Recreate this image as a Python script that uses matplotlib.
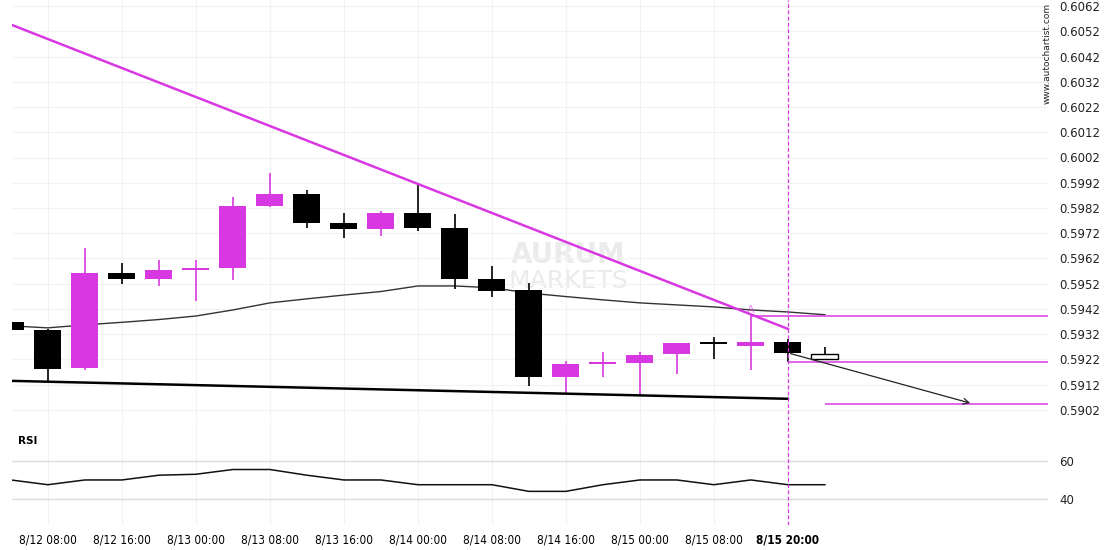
import matplotlib
matplotlib.use("Agg")
import matplotlib.pyplot as plt
import numpy as np

# 4h candles, first one is 8/12 04:00
opens  = [0.59369, 0.59337, 0.59187, 0.59563, 0.59539, 0.59575, 0.59583, 0.59828,
          0.59876, 0.59761, 0.59737, 0.59800, 0.59741, 0.59539, 0.59495, 0.59151,
          0.59202, 0.59206, 0.59242, 0.59284, 0.59274, 0.59290, 0.59242]
highs  = [0.59372, 0.59340, 0.59662, 0.59602, 0.59614, 0.59614, 0.59864, 0.59959,
          0.59891, 0.59800, 0.59808, 0.59911, 0.59796, 0.59590, 0.59523, 0.59214,
          0.59250, 0.59250, 0.59285, 0.59310, 0.59396, 0.59302, 0.59270]
lows   = [0.59335, 0.59131, 0.59180, 0.59519, 0.59511, 0.59452, 0.59535, 0.59824,
          0.59741, 0.59701, 0.59709, 0.59729, 0.59499, 0.59468, 0.59115, 0.59088,
          0.59151, 0.59080, 0.59163, 0.59220, 0.59179, 0.59211, 0.59222]
closes = [0.59337, 0.59183, 0.59563, 0.59539, 0.59575, 0.59583, 0.59828, 0.59876,
          0.59761, 0.59737, 0.59800, 0.59741, 0.59539, 0.59491, 0.59151, 0.59202,
          0.59206, 0.59238, 0.59285, 0.59282, 0.59290, 0.59246, 0.59222]

ma = [0.59353, 0.59345, 0.59357, 0.59367, 0.59378, 0.59392, 0.59416, 0.59444,
      0.59460, 0.59475, 0.59489, 0.59511, 0.59511, 0.59504, 0.59483, 0.59469,
      0.59456, 0.59444, 0.59436, 0.59428, 0.59416, 0.59408, 0.59397]

rsi = [50, 47.5, 50, 50, 52.5, 53, 55.5, 55.5, 52.5, 50, 50, 47.5, 47.5, 47.5,
       44, 44, 47.5, 50, 50, 47.5, 50, 47.5, 47.5]

tick_idx = [1, 3, 5, 7, 9, 11, 13, 15, 17, 19, 21]
tick_labels = ['8/12 08:00', '8/12 16:00', '8/13 00:00', '8/13 08:00', '8/13 16:00',
               '8/14 00:00', '8/14 08:00', '8/14 16:00', '8/15 00:00', '8/15 08:00',
               '8/15 20:00']

price_ticks = [0.5902, 0.5912, 0.5922, 0.5932, 0.5942, 0.5952, 0.5962, 0.5972,
               0.5982, 0.5992, 0.6002, 0.6012, 0.6022, 0.6032, 0.6042, 0.6052, 0.6062]

# pattern lines
res_x, res_y = [0.03, 21], [0.60545, 0.59341]
sup_x, sup_y = [0.03, 21], [0.59135, 0.59064]
level_hi, level_mid, level_lo = 0.59392, 0.59209, 0.59044
arrow_end = (26, 0.59044)

MAG = '#d838e2'
W, H = 1110, 550
fig = plt.figure(figsize=(W / 100, H / 100), dpi=100)
ax = fig.add_axes([12 / W, (H - 420) / H, 1036 / W, 420 / H])
ax2 = fig.add_axes([12 / W, 25 / H, 1036 / W, 103 / H], sharex=ax)

x = np.arange(len(opens))
for i in x:
    o, c, h, l = opens[i], closes[i], highs[i], lows[i]
    if i == len(opens) - 1:
        col, face = 'black', 'white'
    elif c >= o:
        col, face = MAG, MAG
    else:
        col, face = 'black', 'black'
    ax.vlines(i, l, h, color=col, lw=1.2, zorder=3)
    body = max(abs(c - o), 0.00008)
    ax.bar(i, body, bottom=min(o, c), width=0.73, color=face, edgecolor=col,
           linewidth=1 if face == 'white' else 0, zorder=4)

ax.plot(x, ma, color='#333333', lw=1.0, zorder=2)
ax.plot(res_x, res_y, color=MAG, lw=1.8, zorder=5)
ax.plot(sup_x, sup_y, color='black', lw=1.8, zorder=5)

ax.hlines(level_hi, 20, 28.03, color=MAG, lw=1.1, zorder=5)
ax.hlines(level_mid, 21, 28.03, color=MAG, lw=1.1, zorder=5)
ax.hlines(level_lo, 22, 28.03, color=MAG, lw=1.1, zorder=5)
ax.annotate('', xy=arrow_end, xytext=(21, closes[21]),
            arrowprops=dict(arrowstyle='->', color='#222222', lw=0.9), zorder=6)
ax.text(20, level_hi + 0.00004, 'A', color=MAG, alpha=0.6, fontsize=8,
        ha='center', va='bottom')

# watermark
ax.text(0.537, 0.36, 'AURUM', transform=ax.transAxes, fontsize=20, fontweight='bold',
        color='#ebebeb', ha='center', va='bottom', zorder=1)
ax.text(0.537, 0.36, 'MARKETS', transform=ax.transAxes, fontsize=18,
        color='#ebebeb', ha='center', va='top', zorder=1)

ax.set_xlim(0.03, 28.03)
ax.set_ylim(0.58980, 0.60644)
ax.set_yticks(price_ticks)
ax.set_yticklabels([f'{p:.4f}' for p in price_ticks])
ax.yaxis.tick_right()
ax.tick_params(axis='y', length=0, pad=8, labelsize=8.5, colors='#222222')
ax.tick_params(axis='x', length=0, labelbottom=False)
ax.grid(True, color='#f2f2f2', lw=0.8)
ax.set_xticks(tick_idx)
for s in ax.spines.values():
    s.set_visible(False)

fig.text(1047 / W, 0.995, 'www.autochartist.com', rotation=90, fontsize=6.5,
         ha='center', va='top', color='#222222')

# RSI panel
ax2.plot(x, rsi, color='#111111', lw=1.1)
ax2.set_ylim(26.3, 80.5)
ax2.set_yticks([40, 60])
ax2.yaxis.tick_right()
ax2.tick_params(axis='y', length=0, pad=8, labelsize=8.5, colors='#222222')
ax2.grid(False)
ax2.axhline(60, color='#dddddd', lw=1)
ax2.axhline(40, color='#dddddd', lw=1)
for t in tick_idx:
    ax2.axvline(t, color='#f2f2f2', lw=0.8, zorder=0)
ax2.set_xticks(tick_idx)
ax2.set_xticklabels(tick_labels, fontsize=8.5, fontstretch='condensed')
ax2.get_xticklabels()[-1].set_fontweight('bold')
ax2.tick_params(axis='x', length=0, pad=6)
ax2.text(0.006, 0.82, 'RSI', transform=ax2.transAxes, fontsize=7.5, fontweight='bold',
         ha='left', va='center')
for s in ax2.spines.values():
    s.set_visible(False)

for a in (ax, ax2):
    a.axvline(21, color=MAG, lw=0.9, ls=(0, (3, 2)), zorder=6)

fig.savefig('out.png', dpi=100)
